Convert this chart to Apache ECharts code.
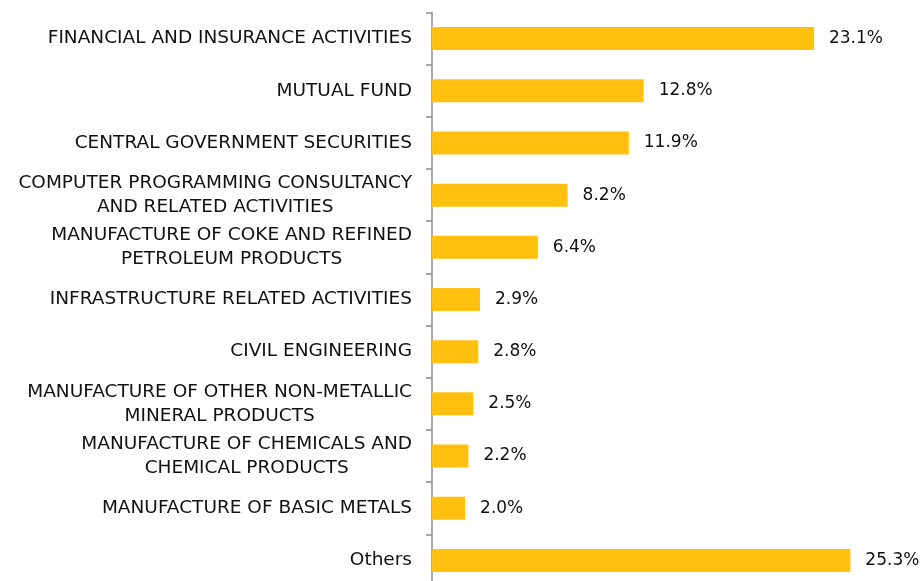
<!DOCTYPE html>
<html><head><meta charset="utf-8">
<script src="https://cdn.jsdelivr.net/npm/echarts@6/dist/echarts.min.js"></script>
<style>html,body{margin:0;padding:0;background:#fff}#c{width:921px;height:581px}</style>
</head><body><div id="c"></div>
<script>
const categories = [
  "FINANCIAL AND INSURANCE ACTIVITIES",
  "MUTUAL FUND",
  "CENTRAL GOVERNMENT SECURITIES",
  "COMPUTER PROGRAMMING CONSULTANCY\nAND RELATED ACTIVITIES",
  "MANUFACTURE OF COKE AND REFINED\nPETROLEUM PRODUCTS",
  "INFRASTRUCTURE RELATED ACTIVITIES",
  "CIVIL ENGINEERING",
  "MANUFACTURE OF OTHER NON-METALLIC\nMINERAL PRODUCTS",
  "MANUFACTURE OF CHEMICALS AND\nCHEMICAL PRODUCTS",
  "MANUFACTURE OF BASIC METALS",
  "Others"
];
const values = [23.1, 12.8, 11.9, 8.2, 6.4, 2.9, 2.8, 2.5, 2.2, 2.0, 25.3];

const FONT = '"DejaVu Sans", sans-serif';
const chart = echarts.init(document.getElementById('c'), null, {renderer: 'canvas'});
chart.setOption({
  animation: false,
  backgroundColor: '#ffffff',
  grid: {left: 432, right: 26, top: 12.5, height: 574, containLabel: false, outerBoundsMode: 'none'},
  xAxis: {
    type: 'value', min: 0, max: 28, show: false
  },
  yAxis: {
    type: 'category', data: categories, inverse: true,
    axisLine: {show: true, lineStyle: {color: '#8c8c8c', width: 1.5}},
    axisTick: {show: true, length: 6, lineStyle: {color: '#8c8c8c', width: 1.5}},
    axisLabel: {
      margin: 20, align: 'right', color: '#111', fontFamily: FONT, fontSize: 18.5,
      lineHeight: 24,
      formatter: v => v.split('\n').map(s => '{c|' + s + '}').join('\n'),
      rich: {c: {align: 'center', color: '#111', fontFamily: FONT, fontSize: 18.5, lineHeight: 24}}
    },
    splitLine: {show: false}
  },
  series: [{
    type: 'bar', data: values, barWidth: 23,
    itemStyle: {color: '#FFC010'},
    label: {
      show: true, position: 'right', distance: 15,
      formatter: p => p.value.toFixed(1) + '%',
      color: '#111', fontFamily: FONT, fontSize: 17
    }
  }]
});
</script></body></html>
